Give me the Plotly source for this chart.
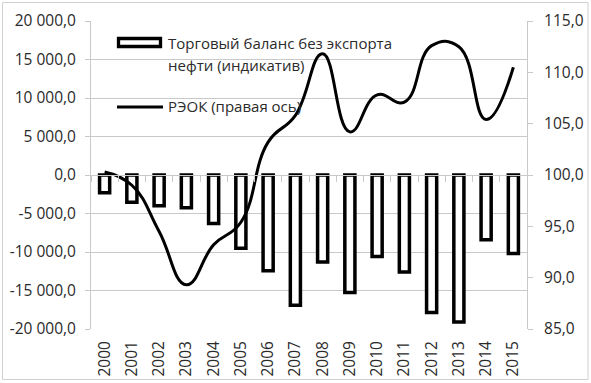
import plotly.graph_objects as go

# ---- data ----
years = list(range(2000, 2016))
year_labels = [str(y) for y in years]
trade_balance = [-2300, -3550, -4000, -4250, -6300, -9500, -12450, -16900,
                 -11300, -15250, -10600, -12600, -17850, -19100, -8400, -10200]
reok = [100.3, 99.0, 94.5, 89.3, 93.2, 95.4, 103.2, 105.8,
        111.8, 104.2, 107.8, 107.1, 112.6, 112.5, 105.4, 110.5]
bar_name_lines = ["Торговый баланс без экспорта", "нефти (индикатив)"]
line_name = "РЭОК (правая ось)"
left_ticks = [-20000, -15000, -10000, -5000, 0, 5000, 10000, 15000, 20000]
right_ticks = [85, 90, 95, 100, 105, 110, 115]


def fmt(v, dec=1):
    s = f"{abs(v):,.{dec}f}".replace(",", " ").replace(".", ",")
    return ("-" if v < 0 else "") + s


left_text = [fmt(v) for v in left_ticks]
right_text = [fmt(v) for v in right_ticks]

# ---- layout geometry ----
W, H = 591, 383
ML, MR, MT, MB = 91, 64, 21, 54
PW, PH = W - ML - MR, H - MT - MB


def px(x):
    return (x - ML) / PW


def py(y):
    return (H - MB - y) / PH


FONT = "Open Sans"
TXT = "#2b2b2b"
GRID = "#c9c9c9"

fig = go.Figure()
fig.add_trace(go.Bar(
    x=years, y=trade_balance, name=" ".join(bar_name_lines),
    marker=dict(color="white", line=dict(color="black", width=3.5)),
    yaxis="y", showlegend=False,
))
fig.add_trace(go.Scatter(
    x=years, y=reok, name=line_name, mode="lines",
    line=dict(color="black", width=3, shape="spline", smoothing=1.3),
    yaxis="y2", showlegend=False,
))
# invisible trace to bind the zero-crossing category axis
fig.add_trace(go.Scatter(
    x=years, y=[0] * len(years), mode="markers", marker=dict(opacity=0),
    xaxis="x3", yaxis="y", showlegend=False, hoverinfo="skip",
))

xr = [years[0] - 0.5, years[-1] + 0.5]
yr = [left_ticks[0], left_ticks[-1]]
zero_pos = (0 - yr[0]) / (yr[1] - yr[0])
boundaries = [y - 0.5 for y in years] + [years[-1] + 0.5]

fig.update_layout(
    width=W, height=H,
    margin=dict(l=ML, r=MR, t=MT, b=MB, autoexpand=False),
    paper_bgcolor="white", plot_bgcolor="white",
    bargap=0.63,
    font=dict(family=FONT, size=15.5, color=TXT),
    xaxis=dict(
        range=xr, tickmode="array", tickvals=years, ticktext=year_labels,
        tickangle=-90, showgrid=False, zeroline=False, showline=False,
        ticks="", ticklabelstandoff=8, tickfont=dict(size=15.5),
        automargin=False,
    ),
    xaxis3=dict(
        range=xr, overlaying="x", anchor="free", position=zero_pos,
        tickmode="array", tickvals=boundaries, showticklabels=False,
        ticks="outside", ticklen=6, tickcolor=GRID, tickwidth=1,
        showline=True, linecolor=GRID, linewidth=1, showgrid=False,
        zeroline=False, automargin=False,
    ),
    yaxis=dict(
        range=yr, tickmode="array", tickvals=left_ticks, ticktext=left_text,
        showgrid=True, gridcolor=GRID, gridwidth=1, zeroline=False,
        showline=True, linecolor=GRID, linewidth=1,
        ticks="outside", ticklen=5, tickcolor=GRID, ticklabelstandoff=6,
        automargin=False,
    ),
    yaxis2=dict(
        range=[right_ticks[0], right_ticks[-1]], overlaying="y", side="right",
        tickmode="array", tickvals=right_ticks, ticktext=right_text,
        showgrid=False, zeroline=False, showline=True, linecolor=GRID,
        linewidth=1, ticks="outside", ticklen=5, tickcolor=GRID,
        ticklabelstandoff=8, automargin=False,
    ),
)

# outer chart border
fig.add_shape(type="rect", xref="paper", yref="paper",
              x0=px(2.5), x1=px(588), y0=py(2.5), y1=py(379.5),
              line=dict(color="#d0d0d0", width=1), fillcolor="rgba(0,0,0,0)",
              layer="below")

# custom legend
fig.add_shape(type="rect", xref="paper", yref="paper",
              x0=px(118.5), x1=px(160.5), y0=py(38.5), y1=py(46.5),
              line=dict(color="black", width=3.3), fillcolor="white")
fig.add_shape(type="line", xref="paper", yref="paper",
              x0=px(117), x1=px(163), y0=py(107), y1=py(107),
              line=dict(color="black", width=3))
for txt, yy in zip(bar_name_lines + [line_name], [43, 65, 106]):
    fig.add_annotation(text=txt, xref="paper", yref="paper",
                       x=px(166), y=py(yy), xanchor="left", yanchor="middle",
                       showarrow=False, font=dict(size=15, family=FONT, color=TXT))

fig.write_html(
    "out.html",
    config={"displayModeBar": False},
    post_script="document.body.style.margin='0';document.body.style.padding='0';"
                "document.body.style.overflow='hidden';",
)
